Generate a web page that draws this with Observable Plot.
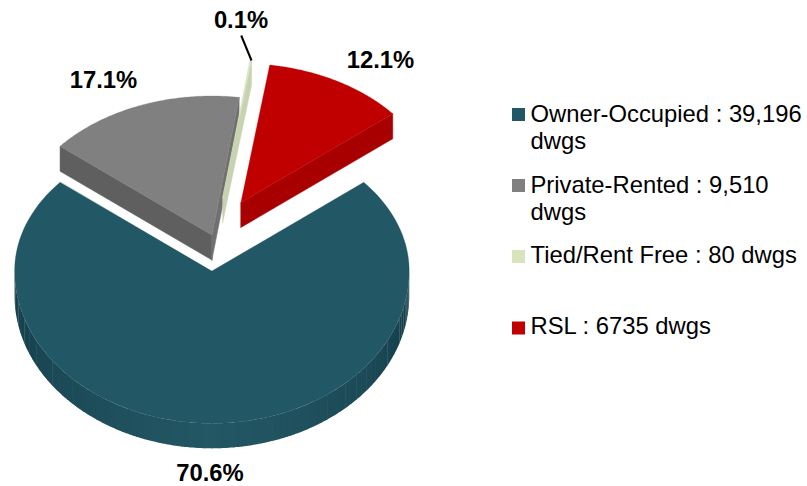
<!DOCTYPE html>
<html>
<head>
<meta charset="utf-8">
<script src="https://cdn.jsdelivr.net/npm/d3@7"></script>
<script src="https://cdn.jsdelivr.net/npm/@observablehq/plot@0.6"></script>
<style>
html,body{margin:0;padding:0;background:#fff;}
svg{display:block;}
</style>
</head>
<body>
<div id="chart"></div>
<script>
const categories = ["Owner-Occupied", "Private-Rented", "Tied/Rent Free", "RSL"];
const dwellings = [39196, 9510, 80, 6735];
const legendLabels = ["Owner-Occupied : 39,196\ndwgs", "Private-Rented : 9,510\ndwgs", "Tied/Rent Free : 80 dwgs", "RSL : 6735 dwgs"];
const topColors = ["#225866", "#808080", "#d7e4bd", "#c00000"];
const wallColors = ["#1d4d5a", "#5f5f5f", "#c6d2b0", "#a80000"];

// Layout of the tilted pie (pixels)
const W = 807, H = 486;
const C = {x: 211.4, y: 270.5, rx: 197.3, ryTop: 139, ryBottom: 152.3, depth: 25};
const explode = [[0, 0], [0, -36], [10.8, -73.5], [29, -68.5]];
const legendY = [[108, 121, 120.7], [179, 192, 191.7], [250, 263, 262], [321.5, 334.5, 333]];
const labelPos = [[209.5, 481], [103, 87.5], [240.5, 28], [380, 68]];

const rad = Math.PI / 180;
const arcs = d3.pie().sort(null).startAngle(52.93 * rad).endAngle((360 + 52.93) * rad)(dwellings);
const total = d3.sum(dwellings);

function pt(a, i, dz = 0) {
  const up = Math.cos(a) > 0;
  const t = up ? a - 2.7 * rad * Math.sin(2 * a) : a;
  const ry = up ? C.ryTop : C.ryBottom;
  return {x: C.x + explode[i][0] + C.rx * Math.sin(t), y: C.y + explode[i][1] - ry * Math.cos(t) + dz};
}
function tip(i, dz = 0) {
  return {x: C.x + explode[i][0], y: C.y + explode[i][1] + dz};
}
function arcPts(a0, a1, i, dz = 0) {
  return d3.range(0, 121).map(k => pt(a0 + (a1 - a0) * k / 120, i, dz));
}
function poly(points, color, sw = 0.5) {
  return Plot.line(points, {x: "x", y: "y", fill: color, stroke: sw ? color : "none", strokeWidth: sw, curve: "linear-closed"});
}
const wedge = (arc, i) => poly([tip(i), ...arcPts(arc.startAngle, arc.endAngle, i)], topColors[i], 0.3);

const marks = [];

// Owner-Occupied: curved rim in shaded bands painted from both ends towards the middle, then its top face
const rimShade = d3.scaleLinear().domain([0, 0.55, 1]).range(["#235764", "#1c4a57", "#123c48"]);
const rimHalfBands = 40, rimSpan = 90 * rad;
function band(a0, a1) {
  const off = Math.abs((a0 + a1) / 2 - Math.PI) / (Math.PI / 2);
  const n = 4;
  const as = d3.range(0, n + 1).map(k => a0 + (a1 - a0) * k / n);
  const front = as.map(a => pt(a, 0));
  const back = as.slice().reverse().map(a => pt(a, 0, C.depth));
  return poly([...front, ...back], rimShade(off), 0);
}
for (let k = rimHalfBands; k > 0; k--) {
  const a = rimSpan * k / rimHalfBands, b = rimSpan * (k - 1) / rimHalfBands;
  marks.push(band(Math.PI - a, Math.PI - b + 0.004));
  marks.push(band(Math.PI + b - 0.004, Math.PI + a));
}
marks.push(wedge(arcs[0], 0));

// Private-Rented: front wall, right cut face, top
const pa = arcs[1];
marks.push(poly([tip(1), pt(pa.startAngle, 1), pt(pa.startAngle, 1, C.depth), tip(1, C.depth)], wallColors[1]));
marks.push(poly([tip(1), pt(pa.endAngle, 1), pt(pa.endAngle, 1, C.depth), tip(1, C.depth)], "#707070"));
marks.push(wedge(pa, 1));

// Tied: cut face then sliver of top
const ta = arcs[2];
marks.push(poly([tip(2), pt(ta.endAngle, 2), pt(ta.endAngle, 2, C.depth), tip(2, C.depth)], wallColors[2]));
marks.push(wedge(ta, 2));

// RSL: front wall, top
const ra = arcs[3];
marks.push(poly([tip(3), pt(ra.endAngle, 3), pt(ra.endAngle, 3, C.depth), tip(3, C.depth)], wallColors[3]));
marks.push(wedge(ra, 3));

// Leader for the 0.1% label
marks.push(Plot.link([{x1: 240.7, y1: 35, x2: 251, y2: 60}], {x1: "x1", y1: "y1", x2: "x2", y2: "y2", stroke: "#000", strokeWidth: 2}));

// Percentage labels
const pctRows = dwellings.map((v, i) => ({text: (100 * v / total).toFixed(1) + "%", x: labelPos[i][0], y: labelPos[i][1]}));
marks.push(Plot.text(pctRows, {
  x: "x", y: "y", text: "text", textAnchor: "middle", lineAnchor: "bottom",
  fontFamily: "Liberation Sans", fontWeight: "bold", fontSize: 23.8, fill: "#000", dy: -0.5
}));

// Legend
const legendRows = categories.map((c, i) => ({
  label: legendLabels[i], color: topColors[i], y1: legendY[i][0], y2: legendY[i][1], base: legendY[i][2]
}));
marks.push(Plot.rect(legendRows, {x1: () => 512, x2: () => 525, y1: "y1", y2: "y2", fill: d => d.color}));
marks.push(Plot.text(legendRows, {
  x: () => 530, y: "base", text: "label", textAnchor: "start", lineAnchor: "top", dy: -18.5,
  fontFamily: "Liberation Sans", fontSize: 23.8, lineHeight: 1.134, fill: "#000"
}));

const chart = Plot.plot({
  width: W, height: H,
  margin: 0,
  style: {background: "#fff"},
  color: {type: "identity"},
  x: {domain: [0, W], range: [0, W], axis: null},
  y: {domain: [0, H], range: [0, H], axis: null},
  marks
});
document.getElementById("chart").appendChild(chart);
</script>
</body>
</html>
